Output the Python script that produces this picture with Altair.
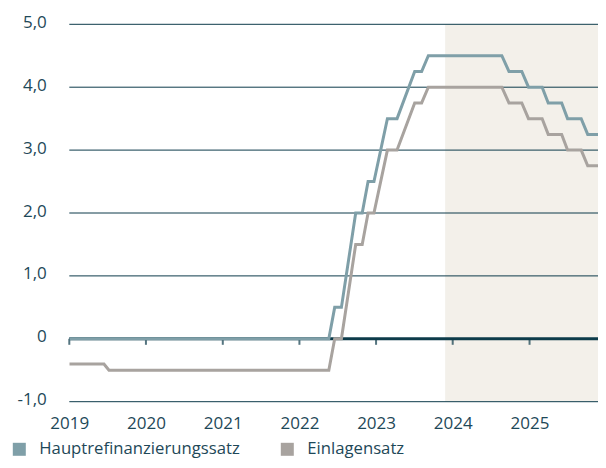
import altair as alt
import pandas as pd

# Vertices of both series
dates = [
    "2019-01-01", "2019-06-15", "2019-07-09", "2022-05-21", "2022-06-18",
    "2022-07-20", "2022-09-26", "2022-10-27", "2022-11-24", "2022-12-22",
    "2023-02-24", "2023-04-11", "2023-07-04", "2023-08-06", "2023-09-07",
    "2024-08-22", "2024-09-25", "2024-11-25", "2024-12-27", "2025-03-02",
    "2025-03-31", "2025-06-03", "2025-07-01", "2025-09-04", "2025-10-05",
    "2025-12-06", "2026-01-04",
]
hauptrefi = [
    0.0, 0.0, 0.0, 0.0, 0.5,
    0.5, 2.0, 2.0, 2.5, 2.5,
    3.5, 3.5, 4.25, 4.25, 4.5,
    4.5, 4.25, 4.25, 4.0, 4.0,
    3.75, 3.75, 3.5, 3.5, 3.25,
    3.25, 3.0,
]
einlagen = [
    -0.4, -0.4, -0.5, -0.5, 0.0,
    0.0, 1.5, 1.5, 2.0, 2.0,
    3.0, 3.0, 3.75, 3.75, 4.0,
    4.0, 3.75, 3.75, 3.5, 3.5,
    3.25, 3.25, 3.0, 3.0, 2.75,
    2.75, 2.5,
]
series_names = ["Hauptrefinanzierungssatz", "Einlagensatz"]
series_colors = ["#7f9fa8", "#a8a39f"]
grid_values = [-1, 1, 2, 3, 4, 5]
y_ticks = [-1, 0, 1, 2, 3, 4, 5]
years = [2019, 2020, 2021, 2022, 2023, 2024, 2025]
x_start = "2019-01-01"
x_end = "2025-11-23"
shade_start = "2023-11-26"
shade_end = "2026-01-01"

dark = "#0d3b4a"
text_col = "#1e4858"
font = "Open Sans"

rows = []
for d, a, b in zip(dates, hauptrefi, einlagen):
    rows.append({"date": d, "value": a, "series": series_names[0]})
    rows.append({"date": d, "value": b, "series": series_names[1]})
df = pd.DataFrame(rows)

xscale = alt.Scale(domain=[x_start, x_end], nice=False)
yscale = alt.Scale(domain=[-1, 5], nice=False)

W = 528.7
H = 377.4

shade = alt.Chart(pd.DataFrame({"s": [shade_start], "e": [shade_end]})).mark_rect(
    color="#f3f0ea", clip=True
).encode(
    x=alt.X("s:T", scale=xscale),
    x2="e:T",
    y=alt.value(0),
    y2=alt.value(H),
)

grid = alt.Chart(pd.DataFrame({"g": grid_values})).mark_rule(
    color=dark, strokeWidth=1
).encode(y=alt.Y("g:Q", scale=yscale))

zero = alt.Chart(pd.DataFrame({"z": [0]})).mark_rule(
    color=dark, strokeWidth=3
).encode(y=alt.Y("z:Q", scale=yscale))

tick_df = pd.DataFrame({"d": [f"{y}-01-01" for y in years], "z": [0] * len(years)})
ticks = alt.Chart(tick_df).mark_tick(
    color=dark, orient="vertical", size=6, thickness=2, yOffset=3
).encode(
    x=alt.X("d:T", scale=xscale),
    y=alt.Y("z:Q", scale=yscale),
)

lines = alt.Chart(df).mark_line(strokeWidth=3, clip=True, strokeJoin="miter").encode(
    x=alt.X(
        "date:T",
        scale=xscale,
        title=None,
        axis=alt.Axis(
            values=[alt.DateTime(year=y, month=1, date=1) for y in years],
            format="%Y",
            grid=False,
            domain=False,
            ticks=False,
            tickSize=0,
            labelFontSize=17,
            labelFont=font,
            labelColor=text_col,
            labelPadding=14,
            labelFlush=False,
        ),
    ),
    y=alt.Y(
        "value:Q",
        scale=yscale,
        title=None,
        axis=alt.Axis(
            values=y_ticks,
            labelExpr="datum.value == 0 ? '0' : (datum.value < 0 ? '-' : '') + abs(datum.value) + ',0'",
            grid=False,
            domain=False,
            ticks=False,
            tickSize=0,
            labelFontSize=17,
            labelFont=font,
            labelColor=text_col,
            labelPadding=23,
            labelOffset=-2,
        ),
    ),
    color=alt.Color(
        "series:N",
        scale=alt.Scale(domain=series_names, range=series_colors),
        sort=series_names,
        legend=alt.Legend(
            title=None,
            orient="none",
            direction="horizontal",
            legendX=-63,
            legendY=412,
            symbolType="stroke",
            symbolSize=169,
            symbolStrokeWidth=13,
            labelFontSize=16.7,
            labelFont=font,
            labelColor=text_col,
            labelOffset=7,
            labelLimit=0,
            columnPadding=14,
        ),
    ),
)

chart = alt.layer(shade, grid, zero, ticks, lines).properties(
    width=W,
    height=H,
    autosize=alt.AutoSizeParams(type="none"),
    padding={"left": 61.3, "top": 16.3, "right": 0, "bottom": 57.3},
).configure_view(stroke=None)

chart.save("out.html", embed_options={"renderer": "svg", "actions": False})
